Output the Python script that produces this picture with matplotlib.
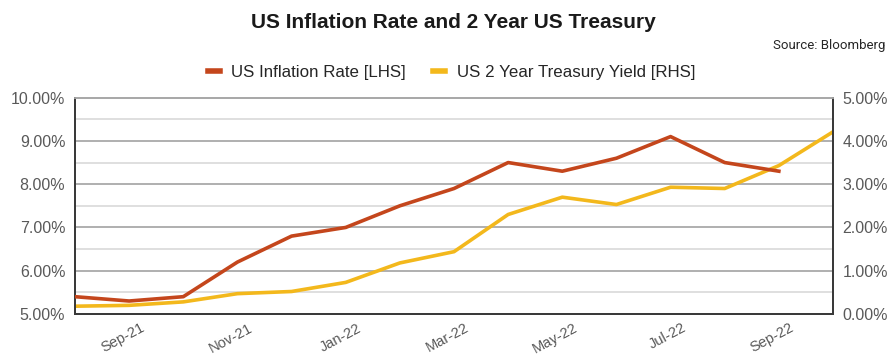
import matplotlib
matplotlib.use("Agg")
import matplotlib.pyplot as plt
import matplotlib.transforms as mtransforms
from matplotlib.ticker import MultipleLocator, FuncFormatter

# months on the x axis (chart dating)
months = ["Aug-21", "Sep-21", "Oct-21", "Nov-21", "Dec-21", "Jan-22", "Feb-22",
          "Mar-22", "Apr-22", "May-22", "Jun-22", "Jul-22", "Aug-22", "Sep-22", "Oct-22"]

# US inflation rate [LHS], %
inflation = [5.4, 5.3, 5.4, 6.2, 6.8, 7.0, 7.5, 7.9, 8.5, 8.3, 8.6, 9.1, 8.5, 8.3]

# US 2 year treasury yield [RHS], %
yield_2y = [0.18, 0.20, 0.28, 0.47, 0.52, 0.73, 1.18, 1.44, 2.30, 2.70, 2.53, 2.93, 2.90, 3.43, 4.21]

red = "#C4461C"
gold = "#F3B81C"
grey_txt = "#595959"
font = "Liberation Sans"

fig = plt.figure(figsize=(8.96, 3.63), dpi=100)
ax = fig.add_axes([0.0837, 0.135, 0.8460, 0.596])
ax2 = ax.twinx()

x_inf = list(range(len(inflation)))
x_yld = list(range(len(yield_2y)))

l1, = ax.plot(x_inf, inflation, color=red, lw=2.6, solid_joinstyle="round", zorder=3,
              label="US Inflation Rate [LHS]")
l2, = ax2.plot(x_yld, yield_2y, color=gold, lw=2.6, solid_joinstyle="round", zorder=2,
               label="US 2 Year Treasury Yield [RHS]")
# inflation drawn on top of yield
ax.set_zorder(ax2.get_zorder() + 1)
ax.patch.set_visible(False)

ax.set_xlim(0, len(months) - 1)
ax.set_ylim(5, 10)
ax2.set_ylim(0, 5)

# grid: darker at whole percents, lighter at halves
for v in [5.5, 6.5, 7.5, 8.5, 9.5]:
    ax2.axhline(v - 5, color="#dcdcdc", lw=1.3, zorder=0)
for v in [6, 7, 8, 9, 10]:
    ax2.axhline(v - 5, color="#a9a9a9", lw=1.3, zorder=0)

pct = FuncFormatter(lambda v, p: f"{v:.2f}%")
ax.yaxis.set_major_locator(MultipleLocator(1))
ax2.yaxis.set_major_locator(MultipleLocator(1))
ax.yaxis.set_major_formatter(pct)
ax2.yaxis.set_major_formatter(pct)

for a in (ax, ax2):
    a.tick_params(axis="y", length=0, pad=7, labelsize=11.5, labelcolor=grey_txt)
    for s in ("left", "right", "bottom"):
        a.spines[s].set_color("#3a3a3a")
        a.spines[s].set_linewidth(1.4)
    a.spines["top"].set_color("#a9a9a9")
    a.spines["top"].set_linewidth(1.3)
    for lab in a.get_yticklabels():
        lab.set_fontfamily(font)

# x labels every other month, rotated
tick_pos = list(range(1, len(months), 2))
ax.set_xticks(tick_pos)
ax.set_xticklabels([months[i] for i in tick_pos])
ax.tick_params(axis="x", length=0, pad=5, labelsize=10.5, labelcolor=grey_txt)
offset = mtransforms.ScaledTranslation(11 / 100, 0, fig.dpi_scale_trans)
for lab in ax.get_xticklabels():
    lab.set_rotation(28)
    lab.set_ha("right")
    lab.set_va("top")
    lab.set_rotation_mode("anchor")
    lab.set_fontfamily(font)
    lab.set_transform(lab.get_transform() + offset)

fig.text(0.506, 0.938, "US Inflation Rate and 2 Year US Treasury", ha="center", va="center",
         fontsize=15, fontweight="bold", family=font, color="#1a1a1a")
fig.text(0.988, 0.876, "Source: Bloomberg", ha="right", va="center",
         fontsize=9.5, family="Roboto", color="#262626")

leg = fig.legend(handles=[l1, l2], loc="center", bbox_to_anchor=(0.504, 0.800), ncol=2,
                 frameon=False, handlelength=0.7, handletextpad=0.7, columnspacing=1.6,
                 prop={"family": font, "size": 12.2})
for h in leg.legend_handles:
    h.set_linewidth(4)
for t in leg.get_texts():
    t.set_color("#262626")

fig.savefig("out.png", dpi=100)
